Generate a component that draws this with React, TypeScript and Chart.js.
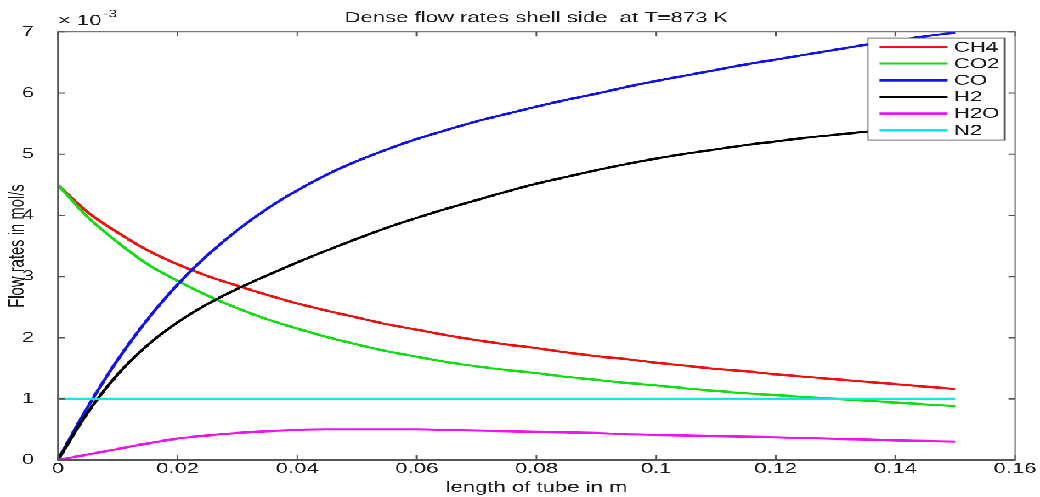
import React, { useEffect, useRef } from "react";
import { Chart, registerables } from "chart.js";

Chart.register(...registerables);

// ---- data (flow rates in units of 1e-3 mol/s) ----
const xValues = [
  0, 0.005, 0.01, 0.015, 0.02, 0.025, 0.03, 0.035, 0.04, 0.045, 0.05, 0.055,
  0.06, 0.065, 0.07, 0.075, 0.08, 0.085, 0.09, 0.095, 0.1, 0.105, 0.11, 0.115,
  0.12, 0.125, 0.13, 0.135, 0.14, 0.145, 0.15,
];
const ch4 = [
  4.5, 4.05, 3.72, 3.43, 3.2, 3.01, 2.85, 2.7, 2.56, 2.44, 2.33, 2.22, 2.13,
  2.04, 1.96, 1.89, 1.83, 1.76, 1.7, 1.65, 1.59, 1.54, 1.49, 1.45, 1.4, 1.36,
  1.32, 1.28, 1.24, 1.2, 1.16,
];
const co2 = [
  4.5, 3.97, 3.56, 3.2, 2.93, 2.69, 2.48, 2.3, 2.15, 2.01, 1.89, 1.78, 1.69,
  1.6, 1.53, 1.47, 1.42, 1.36, 1.31, 1.26, 1.22, 1.17, 1.13, 1.09, 1.06, 1.03,
  1.0, 0.97, 0.94, 0.91, 0.88,
];
const co = [
  0, 0.87, 1.64, 2.3, 2.87, 3.35, 3.76, 4.11, 4.41, 4.67, 4.89, 5.08, 5.25,
  5.4, 5.54, 5.66, 5.78, 5.89, 5.99, 6.1, 6.2, 6.29, 6.38, 6.47, 6.55, 6.63,
  6.71, 6.79, 6.86, 6.93, 6.99,
];
const h2 = [
  0, 0.78, 1.4, 1.88, 2.25, 2.55, 2.8, 3.02, 3.23, 3.43, 3.62, 3.8, 3.96, 4.11,
  4.25, 4.39, 4.52, 4.63, 4.74, 4.84, 4.93, 5.01, 5.08, 5.15, 5.21, 5.27, 5.32,
  5.37, 5.42, 5.46, 5.5,
];
const h2o = [
  0, 0.09, 0.18, 0.27, 0.35, 0.4, 0.44, 0.47, 0.49, 0.5, 0.5, 0.5, 0.5, 0.49,
  0.48, 0.47, 0.46, 0.45, 0.44, 0.42, 0.41, 0.4, 0.39, 0.38, 0.37, 0.36, 0.345,
  0.335, 0.32, 0.31, 0.3,
];
const n2 = [
  1, 1, 1, 1, 1, 1, 1, 1, 1, 1, 1, 1, 1, 1, 1, 1, 1, 1, 1, 1, 1, 1, 1, 1, 1, 1,
  1, 1, 1, 1, 1,
];

const seriesNames = ["CH4", "CO2", "CO", "H2", "H2O", "N2"];
const seriesValues = [ch4, co2, co, h2, h2o, n2];
const seriesColors = ["#f01010", "#12dc12", "#1212ee", "#000000", "#ee12ee", "#12e6e6"];

const xTicks = [0, 0.02, 0.04, 0.06, 0.08, 0.1, 0.12, 0.14, 0.16];
const yTicks = [0, 1, 2, 3, 4, 5, 6, 7];

const titleText = "Dense flow rates shell side  at T=873 K";
const xTitle = "length of tube in m";
const yTitle = "Flow rates in mol/s";
const exponentBase = "\u00d7 10";
const exponentPower = "-3";

// ---- layout (logical canvas is stretched to 1040x497) ----
const W = 612;
const H = 436;
const SX = 1040 / W;
const SY = 497 / H;
const FONT = '"Liberation Sans", Arial, Helvetica, sans-serif';
const TEXT = "#1a1a1a";
const AXIS = "#555555";

const fmtTick = (v: number | string) => {
  const n = Number(v);
  if (Math.abs(n) < 1e-9) return "0";
  return String(parseFloat(n.toFixed(4)));
};

const decorPlugin = {
  id: "matlabDecor",
  beforeDraw(chart: any) {
    const ctx = chart.ctx;
    ctx.save();
    ctx.fillStyle = "#ffffff";
    ctx.fillRect(0, 0, chart.width, chart.height);
    ctx.restore();
  },
  afterDatasetsDraw(chart: any) {
    const ctx = chart.ctx;
    const { left, right, top, bottom } = chart.chartArea;
    const xs = chart.scales.x;
    const ys = chart.scales.y;
    ctx.save();
    ctx.strokeStyle = AXIS;
    ctx.lineWidth = 1;
    ctx.strokeRect(left, top, right - left, bottom - top);
    ctx.beginPath();
    const tl = 4;
    xTicks.forEach((v) => {
      const px = xs.getPixelForValue(v);
      ctx.moveTo(px, bottom);
      ctx.lineTo(px, bottom - tl);
      ctx.moveTo(px, top);
      ctx.lineTo(px, top + tl);
    });
    yTicks.forEach((v) => {
      const py = ys.getPixelForValue(v);
      ctx.moveTo(left, py);
      ctx.lineTo(left + tl, py);
      ctx.moveTo(right, py);
      ctx.lineTo(right - tl, py);
    });
    ctx.stroke();
    ctx.restore();
  },
  afterDraw(chart: any) {
    const ctx = chart.ctx;
    const { left, right, top, bottom } = chart.chartArea;
    const cx = (left + right) / 2;
    ctx.save();
    ctx.fillStyle = TEXT;
    ctx.font = `13px ${FONT}`;
    ctx.textAlign = "center";
    ctx.textBaseline = "alphabetic";
    ctx.fillText(titleText, cx, 19.3);
    ctx.fillText(xTitle, cx, 431.6);

    // y title
    ctx.save();
    ctx.translate(10.6, (top + bottom) / 2);
    ctx.rotate(-Math.PI / 2);
    ctx.textAlign = "center";
    ctx.textBaseline = "middle";
    ctx.fillText(yTitle, 0, 0);
    ctx.restore();

    // exponent
    ctx.textAlign = "left";
    ctx.font = `13px ${FONT}`;
    ctx.fillText(exponentBase, left, 21.9);
    const bw = ctx.measureText(exponentBase).width;
    ctx.font = `9px ${FONT}`;
    ctx.fillText(exponentPower, left + bw + 1, 15);

    // legend
    const lw = 80.6;
    const lh = 89.5;
    const lx = right - 6 - lw;
    const ly = top + 5.2;
    ctx.fillStyle = "#ffffff";
    ctx.fillRect(lx, ly, lw, lh);
    ctx.strokeStyle = AXIS;
    ctx.lineWidth = 0.9;
    ctx.strokeRect(lx, ly, lw, lh);
    ctx.font = `13px ${FONT}`;
    ctx.textBaseline = "middle";
    seriesNames.forEach((name, i) => {
      const yy = ly + 7.9 + i * 14.6;
      ctx.strokeStyle = seriesColors[i];
      ctx.lineWidth = 2;
      ctx.beginPath();
      ctx.moveTo(lx + 7, yy);
      ctx.lineTo(lx + 47, yy);
      ctx.stroke();
      ctx.fillStyle = TEXT;
      ctx.fillText(name, lx + 50.6, yy + 0.5);
    });
    ctx.restore();
  },
};

export default function App() {
  const canvasRef = useRef<HTMLCanvasElement>(null);

  useEffect(() => {
    const canvas = canvasRef.current;
    if (!canvas) return;
    const datasets = seriesNames.map((name, i) => ({
      label: name,
      data: xValues.map((x, j) => ({ x, y: seriesValues[i][j] })),
      borderColor: seriesColors[i],
      backgroundColor: seriesColors[i],
      borderWidth: 2,
      pointRadius: 0,
      fill: false,
      cubicInterpolationMode: "monotone" as const,
      order: seriesNames.length - 1 - i,
    }));

    const chart = new Chart(canvas, {
      type: "line",
      data: { datasets },
      options: {
        animation: false,
        responsive: true,
        maintainAspectRatio: false,
        devicePixelRatio: 2,
        layout: { padding: { left: 0, right: 14.7, top: 28.1, bottom: 0 } },
        plugins: {
          legend: { display: false },
          title: { display: false },
          tooltip: { enabled: false },
        },
        scales: {
          x: {
            type: "linear",
            min: 0,
            max: 0.16,
            grid: { display: false },
            border: { display: false },
            afterBuildTicks: (s: any) => {
              s.ticks = xTicks.map((value) => ({ value }));
            },
            afterFit: (s: any) => {
              s.height = 32.5;
            },
            ticks: {
              autoSkip: false,
              maxRotation: 0,
              minRotation: 0,
              padding: -8,
              color: TEXT,
              font: { family: FONT, size: 13 },
              callback: (v: any) => fmtTick(v),
            },
          },
          y: {
            type: "linear",
            min: 0,
            max: 7,
            grid: { display: false },
            border: { display: false },
            afterBuildTicks: (s: any) => {
              s.ticks = yTicks.map((value) => ({ value }));
            },
            afterFit: (s: any) => {
              s.width = 34.1;
            },
            ticks: {
              autoSkip: false,
              padding: 6,
              color: TEXT,
              font: { family: FONT, size: 13 },
              callback: (v: any) => fmtTick(v),
            },
          },
        },
      },
      plugins: [decorPlugin],
    });

    return () => chart.destroy();
  }, []);

  return (
    <div
      style={{
        position: "fixed",
        left: 0,
        top: 0,
        width: W,
        height: H,
        transform: `scale(${SX}, ${SY})`,
        transformOrigin: "0 0",
        background: "#ffffff",
      }}
    >
      <canvas ref={canvasRef} />
    </div>
  );
}
